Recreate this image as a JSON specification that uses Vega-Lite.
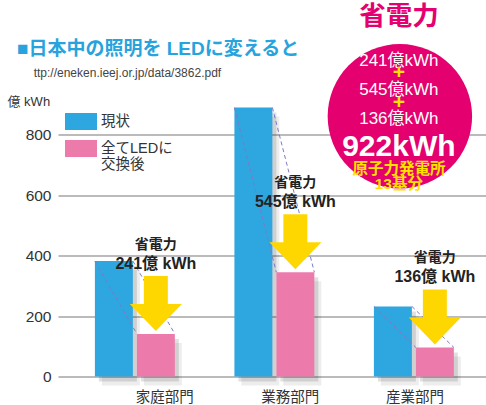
{
  "$schema": "https://vega.github.io/schema/vega-lite/v6.json",
  "width": 428,
  "height": 272,
  "autosize": {"type": "none"},
  "padding": {"left": 58, "top": 104.5, "right": 0, "bottom": 28.5},
  "background": "white",
  "config": {
    "view": {"stroke": null},
    "font": "Liberation Sans, Noto Sans CJK JP"
  },
  "title": {
    "text": "■日本中の照明を LEDに変えると",
    "subtitle": "\u200b\u00a0\u00a0\u00a0\u00a0\u00a0ttp://eneken.ieej.or.jp/data/3862.pdf",
    "anchor": "start",
    "frame": "group",
    "dx": -41,
    "dy": 75,
    "offset": 0,
    "fontSize": 19,
    "fontWeight": "bold",
    "color": "#27a3dd",
    "subtitleFontSize": 12,
    "subtitleColor": "#444444",
    "subtitlePadding": 9
  },
  "data": {
    "values": [
      {"sector": "家庭部門", "series": "現状", "value": 382},
      {"sector": "家庭部門", "series": "全てLEDに交換後", "value": 141, "saving": "241億 kWh"},
      {"sector": "業務部門", "series": "現状", "value": 890},
      {"sector": "業務部門", "series": "全てLEDに交換後", "value": 345, "saving": "545億 kWh"},
      {"sector": "産業部門", "series": "現状", "value": 232},
      {"sector": "産業部門", "series": "全てLEDに交換後", "value": 96, "saving": "136億 kWh"}
    ]
  },
  "resolve": {"scale": {"xOffset": "independent"}},
  "encoding": {
    "x": {
      "field": "sector",
      "type": "nominal",
      "sort": ["家庭部門", "業務部門", "産業部門"],
      "scale": {"paddingInner": 0, "paddingOuter": 0.034, "align": 0.75},
      "axis": {
        "title": null,
        "domain": false,
        "ticks": false,
        "labelAngle": 0,
        "labelFontSize": 14.5,
        "labelColor": "#333333",
        "labelPadding": 14,
        "labelOffset": {
          "condition": [
            {"test": "datum.value === '家庭部門'", "value": 30},
            {"test": "datum.value === '業務部門'", "value": 16}
          ],
          "value": 1
        }
      }
    },
    "y": {
      "field": "value",
      "type": "quantitative",
      "scale": {"domain": [0, 900], "nice": false},
      "axis": {
        "title": "億 kWh",
        "titleAngle": 0,
        "titleAlign": "left",
        "titleBaseline": "middle",
        "titleX": -51,
        "titleY": -3,
        "titleFontSize": 13,
        "titleFontWeight": "normal",
        "titleColor": "#333333",
        "values": [0, 200, 400, 600, 800],
        "domain": false,
        "ticks": false,
        "labelFontSize": 15.5,
        "labelColor": "#333333",
        "labelPadding": 7,
        "gridColor": "#a5a5a5",
        "gridWidth": 1.3
      }
    }
  },
  "layer": [
    {
      "mark": {"type": "bar", "color": "#000000", "opacity": 0.07, "yOffset": 9},
      "encoding": {
        "xOffset": {"field": "series", "scale": {"type": "band", "domain": ["現状", "全てLEDに交換後"], "paddingInner": 0.095, "paddingOuter": 0.71, "align": 0.617}}
      }
    },
    {
      "mark": {"type": "bar", "color": "#000000", "opacity": 0.12, "yOffset": 5},
      "encoding": {
        "xOffset": {"field": "series", "scale": {"type": "band", "domain": ["現状", "全てLEDに交換後"], "paddingInner": 0.095, "paddingOuter": 0.71, "align": 0.567}}
      }
    },
    {
      "mark": {"type": "bar"},
      "encoding": {
        "xOffset": {"field": "series", "scale": {"type": "band", "domain": ["現状", "全てLEDに交換後"], "paddingInner": 0.095, "paddingOuter": 0.71}},
        "color": {
          "field": "series",
          "type": "nominal",
          "scale": {"domain": ["現状", "全てLEDに交換後"], "range": ["#2ea6df", "#ec7bab"]},
          "legend": {
            "title": null,
            "orient": "none",
            "legendX": 7,
            "legendY": 1,
            "padding": 0,
            "symbolType": "M-1,-0.53H1V0.53H-1Z",
            "symbolSize": 1024,
            "symbolStrokeWidth": 0,
            "symbolOpacity": 1,
            "labelFontSize": 14.5,
            "labelColor": "#333333",
            "labelOffset": 4,
            "rowPadding": 2,
            "labelExpr": "datum.label === '現状' ? '現状' : ['全てLEDに', '交換後']"
          }
        }
      }
    },
    {
      "mark": {"type": "line", "color": "#7b7bc9", "strokeWidth": 1, "strokeDash": [4, 3]},
      "encoding": {
        "xOffset": {"field": "series", "scale": {"type": "band", "domain": ["現状", "全てLEDに交換後"], "paddingInner": 0.095, "paddingOuter": 0.71, "align": 0.181}},
        "detail": {"field": "sector"}
      }
    },
    {
      "mark": {"type": "line", "color": "#7b7bc9", "strokeWidth": 1, "strokeDash": [4, 3]},
      "encoding": {
        "xOffset": {"field": "series", "scale": {"type": "band", "domain": ["現状", "全てLEDに交換後"], "paddingInner": 0.095, "paddingOuter": 0.71, "align": 0.819}},
        "detail": {"field": "sector"}
      }
    },
    {
      "transform": [{"filter": "datum.series === '全てLEDに交換後'"}],
      "mark": {
        "type": "point",
        "shape": "M-0.436,-1L0.436,-1L0.436,0.02L0.945,0.02L0,1L-0.945,0.02L-0.436,0.02Z",
        "size": 3025,
        "filled": true,
        "color": "#ffd700",
        "opacity": 1,
        "strokeWidth": 0,
        "yOffset": -30.5
      },
      "encoding": {
        "xOffset": {"field": "series", "scale": {"type": "band", "domain": ["現状", "全てLEDに交換後"], "paddingInner": 0.095, "paddingOuter": 0.71}}
      }
    },
    {
      "transform": [{"filter": "datum.series === '全てLEDに交換後'"}],
      "mark": {"type": "text", "text": "省電力", "fontSize": 14, "fontWeight": "bold", "color": "#222222", "baseline": "middle", "yOffset": -89},
      "encoding": {
        "xOffset": {"field": "series", "scale": {"type": "band", "domain": ["現状", "全てLEDに交換後"], "paddingInner": 0.095, "paddingOuter": 0.71}}
      }
    },
    {
      "transform": [{"filter": "datum.series === '全てLEDに交換後'"}],
      "mark": {"type": "text", "fontSize": 16, "fontWeight": "bold", "color": "#222222", "baseline": "middle", "yOffset": -70},
      "encoding": {
        "xOffset": {"field": "series", "scale": {"type": "band", "domain": ["現状", "全てLEDに交換後"], "paddingInner": 0.095, "paddingOuter": 0.71}},
        "text": {"field": "saving"}
      }
    },
    {
      "transform": [{"filter": "datum.sector === '産業部門' && datum.series === '現状'"}],
      "mark": {"type": "point", "shape": "circle", "size": 20867, "filled": true, "color": "#e4006f", "opacity": 1, "strokeWidth": 0, "xOffset": -14, "clip": false},
      "encoding": {
        "y": {"datum": 861}
      }
    },
    {
      "transform": [{"filter": "datum.sector === '産業部門' && datum.series === '現状'"}],
      "mark": {"type": "text", "text": ["241億kWh", "545億kWh", "136億kWh"], "lineHeight": 29.3, "fontSize": 17, "color": "white", "baseline": "middle", "xOffset": -15},
      "encoding": {
        "y": {"datum": 1045}
      }
    },
    {
      "transform": [{"filter": "datum.sector === '産業部門' && datum.series === '現状'"}],
      "mark": {"type": "text", "text": ["+", "+"], "lineHeight": 29.4, "fontSize": 21, "fontWeight": "bold", "color": "#ffe100", "baseline": "middle", "xOffset": -15},
      "encoding": {
        "y": {"datum": 1003}
      }
    },
    {
      "transform": [{"filter": "datum.sector === '産業部門' && datum.series === '現状'"}],
      "mark": {"type": "text", "text": "922kWh", "fontSize": 30, "fontWeight": "bold", "color": "white", "baseline": "middle", "xOffset": -15},
      "encoding": {
        "y": {"datum": 760}
      }
    },
    {
      "transform": [{"filter": "datum.sector === '産業部門' && datum.series === '現状'"}],
      "mark": {"type": "text", "text": ["原子力発電所", "13基分"], "lineHeight": 14.7, "fontSize": 15.5, "fontWeight": "bold", "color": "#ffe100", "baseline": "middle", "xOffset": -15},
      "encoding": {
        "y": {"datum": 686}
      }
    },
    {
      "transform": [{"filter": "datum.sector === '産業部門' && datum.series === '現状'"}],
      "mark": {"type": "text", "text": "省電力", "fontSize": 26.5, "fontWeight": "bold", "color": "#e4006f", "baseline": "middle", "xOffset": -15},
      "encoding": {
        "y": {"datum": 1190}
      }
    }
  ]
}
